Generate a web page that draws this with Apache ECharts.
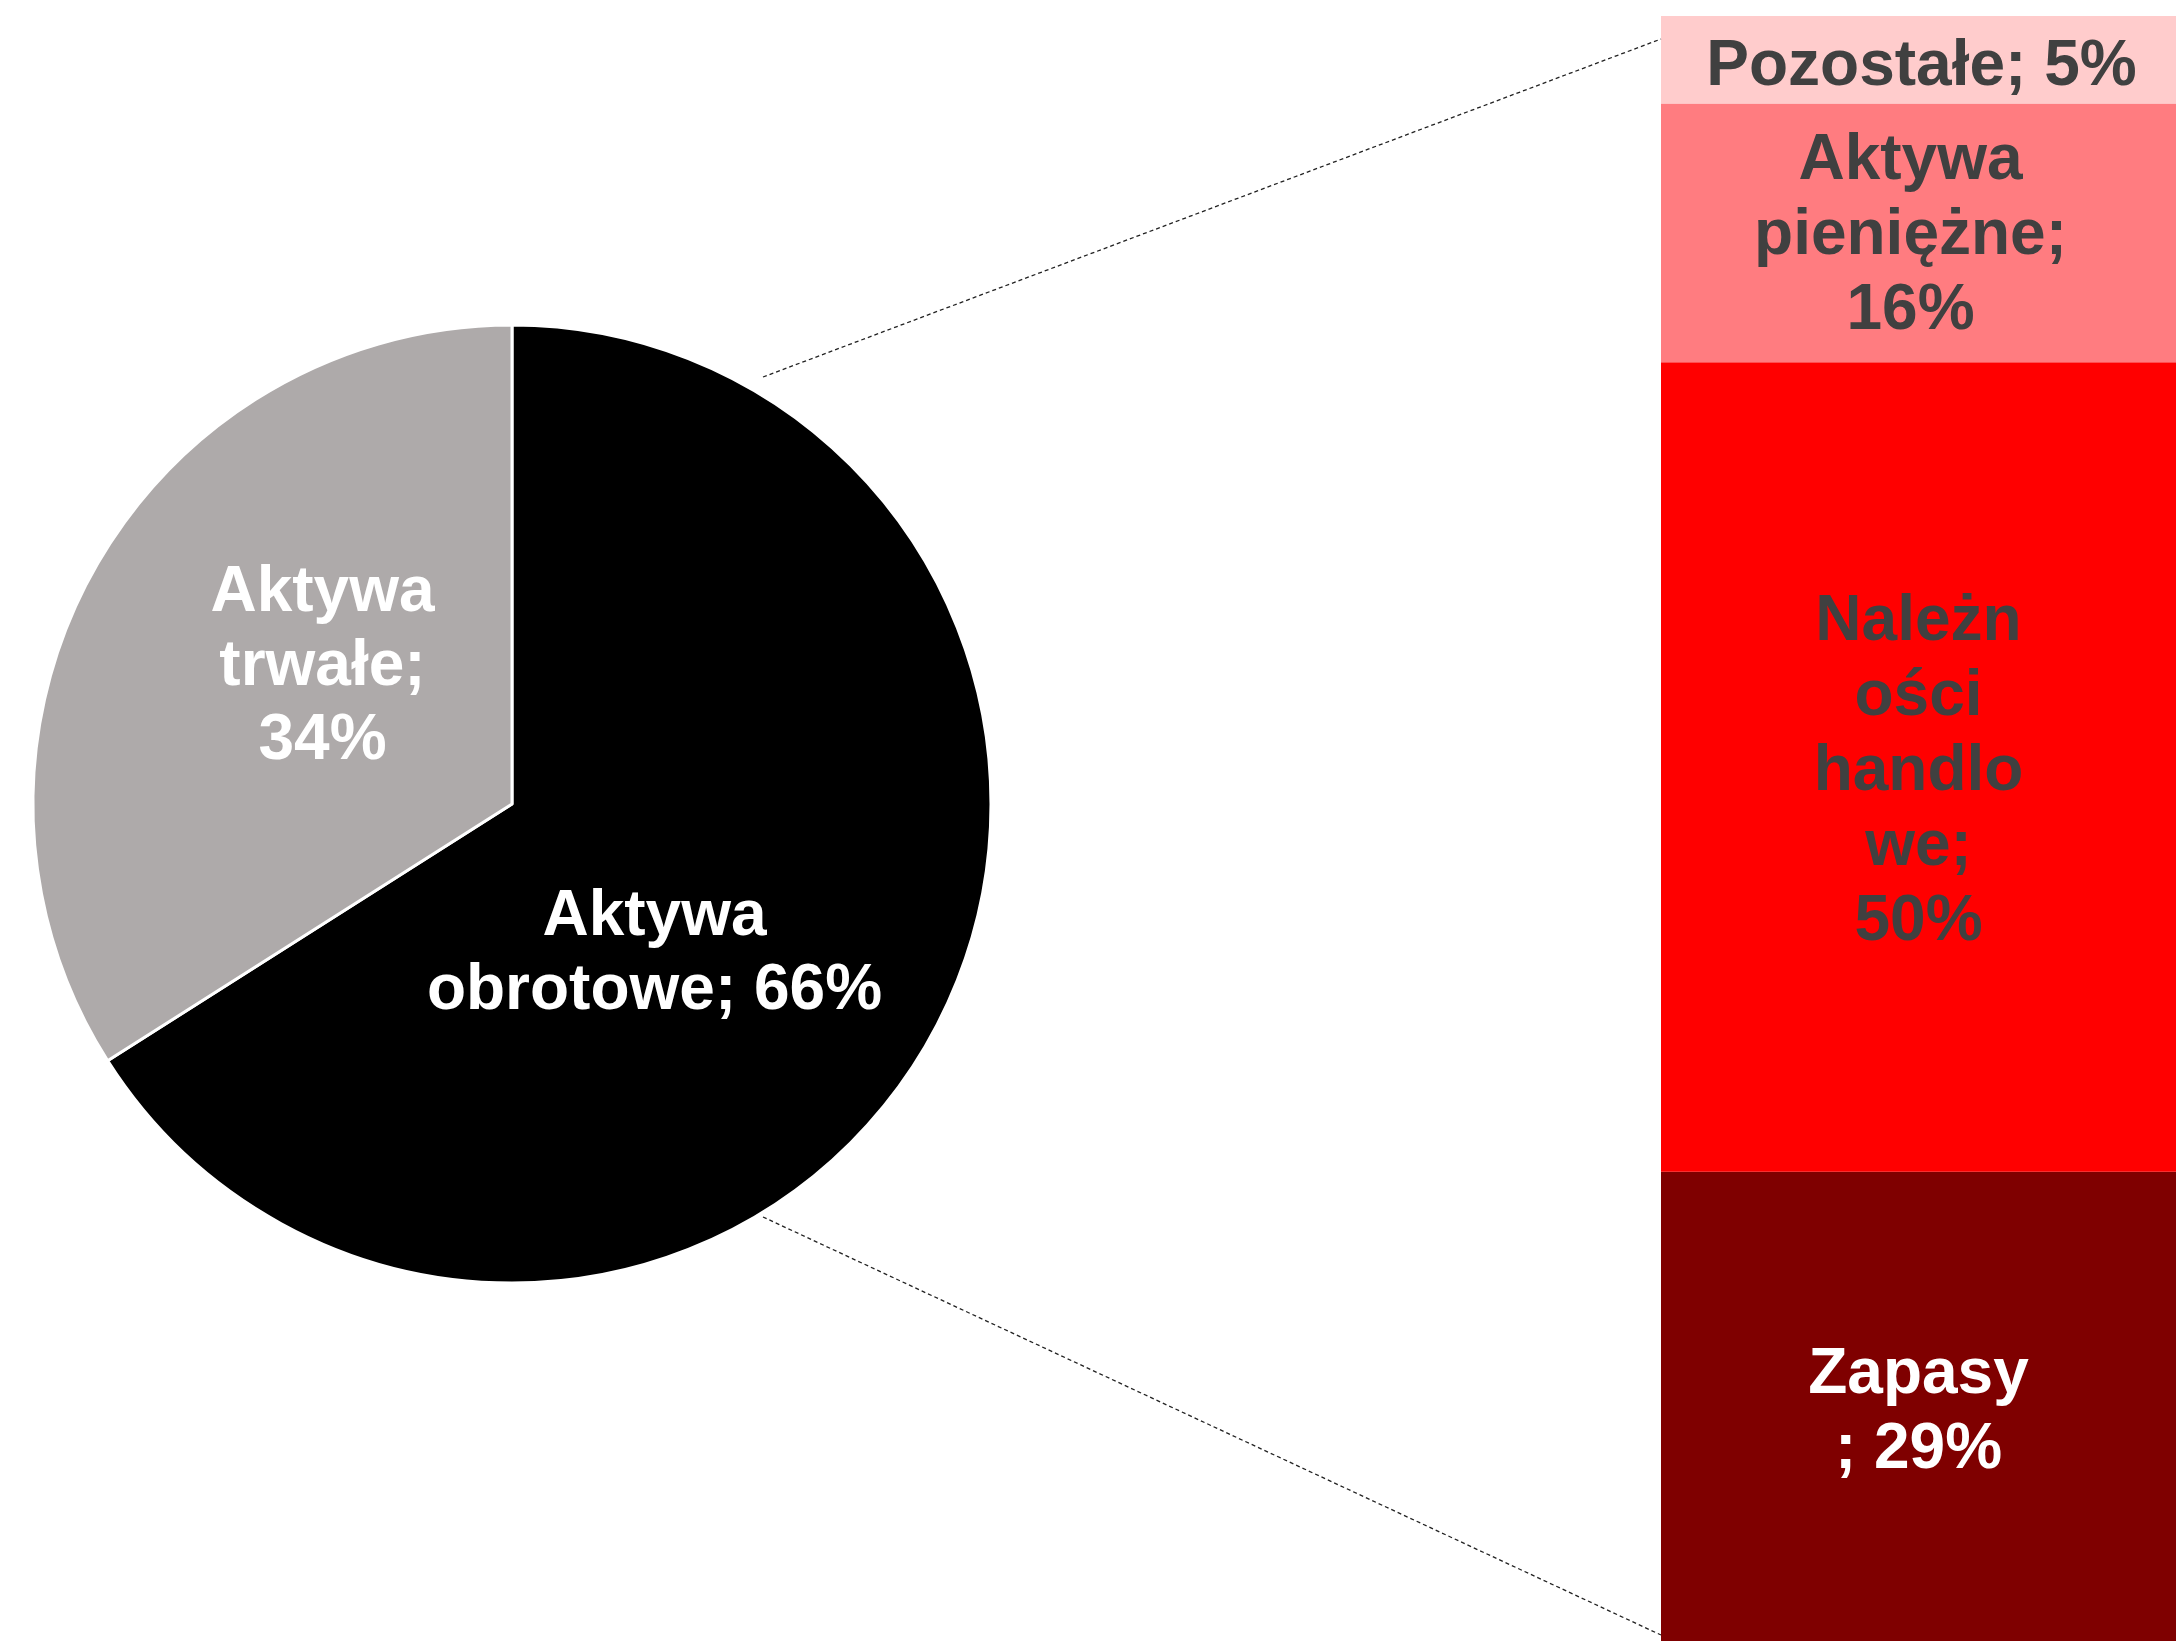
<!DOCTYPE html>
<html>
<head>
<meta charset="utf-8">
<script src="https://cdn.jsdelivr.net/npm/echarts@6/dist/echarts.min.js"></script>
<style>
  html, body { margin: 0; padding: 0; background: #fff; }
  #chart { width: 2176px; height: 1641px; }
</style>
</head>
<body>
<div id="chart"></div>
<script>
// pie: structure of assets
const pieNames = ['Aktywa obrotowe', 'Aktywa trwałe'];
const pieValues = [66, 34];
const pieLabels = ['Aktywa\nobrotowe; 66%', 'Aktywa\ntrwałe;\n34%'];

// stacked bar: breakdown of current assets (bottom to top)
const barNames = ['Zapasy', 'Należności handlowe', 'Aktywa pieniężne', 'Pozostałe'];
const barValues = [29, 50, 16, 5.4];
const barLabels = ['Zapasy\n; 29%', 'Należn\ności\nhandlo\nwe;\n50%', 'Aktywa\npieniężne;\n16%', 'Pozostałe; 5%'];
const barColors = ['#7f0000', '#ff0000', '#ff7c80', '#ffcccc'];
const barTextColors = ['#ffffff', '#404040', '#404040', '#404040'];

const chart = echarts.init(document.getElementById('chart'));

const total = barValues.reduce((a, b) => a + b, 0);
const font = '"Liberation Sans", Arial, sans-serif';

// label nudges, like the hand-placed text boxes of the original
const barOffsets = [[0, 7], [0, 5], [-8, 3], [3, 8]];
const pieOffsets = [[-70, 34], [23, -20]];

const barSeries = barNames.map((name, i) => ({
    name: name,
    type: 'bar',
    stack: 'obrotowe',
    barWidth: '100%',
    data: [barValues[i]],
    itemStyle: { color: barColors[i] },
    label: {
        show: true,
        position: 'inside',
        formatter: barLabels[i],
        color: barTextColors[i],
        fontFamily: font,
        fontWeight: 'bold',
        fontSize: 64,
        lineHeight: 75,
        align: 'center',
        offset: barOffsets[i]
    }
}));

const option = {
    animation: false,
    backgroundColor: '#ffffff',
    grid: { left: 1661, top: 16, width: 518, height: 1626 },
    xAxis: { type: 'category', data: ['obrotowe'], show: false },
    yAxis: { type: 'value', min: 0, max: total, show: false },
    graphic: [
        {   // connector from pie to top of bar
            type: 'line',
            shape: { x1: 763, y1: 377, x2: 1661, y2: 39 },
            style: { stroke: '#222', lineWidth: 1.3, lineDash: [4, 3] },
            z: 10
        },
        {   // connector from pie to bottom of bar
            type: 'line',
            shape: { x1: 763, y1: 1217, x2: 1661, y2: 1635 },
            style: { stroke: '#222', lineWidth: 1.3, lineDash: [4, 3] },
            z: 10
        }
    ],
    series: [
        {
            type: 'pie',
            center: [512, 804],
            radius: 479,
            startAngle: 90,
            clockwise: true,
            itemStyle: { borderColor: '#ffffff', borderWidth: 3 },
            label: {
                show: true,
                position: 'inside',
                color: '#ffffff',
                fontFamily: font,
                fontWeight: 'bold',
                fontSize: 64,
                lineHeight: 74,
                align: 'center',
                formatter: p => pieLabels[p.dataIndex]
            },
            labelLayout: p => ({ dx: pieOffsets[p.dataIndex][0], dy: pieOffsets[p.dataIndex][1] }),
            data: pieNames.map((n, i) => ({
                name: n,
                value: pieValues[i],
                itemStyle: { color: i === 0 ? '#000000' : '#aeaaaa' }
            }))
        }
    ].concat(barSeries)
};

chart.setOption(option);

window.addEventListener('resize', function () {
    chart.resize();
});
</script>
</body>
</html>
